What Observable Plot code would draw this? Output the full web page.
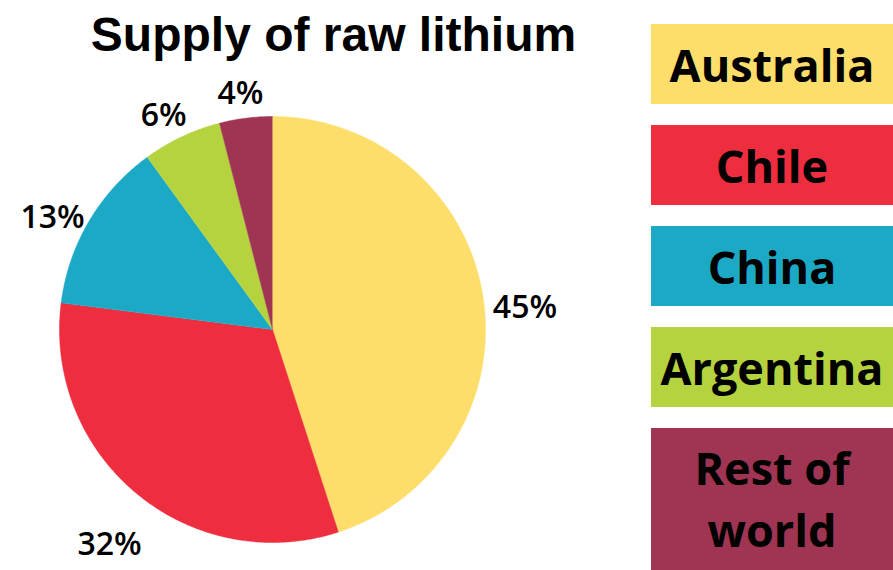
<!DOCTYPE html>
<html>
<head>
<meta charset="utf-8">
<script src="https://cdn.jsdelivr.net/npm/d3@7"></script>
<script src="https://cdn.jsdelivr.net/npm/@observablehq/plot@0.6"></script>
<style>
  html, body { margin: 0; padding: 0; background: #fff; }
  #wrap { position: relative; width: 893px; height: 570px; overflow: hidden; }
  #title { position: absolute; left: 0; top: 11px; width: 667px; text-align: center;
    font-family: "Liberation Sans", Arial, sans-serif; font-weight: bold; font-size: 48px; line-height: 48px; color: #000; }
  #chart { position: absolute; left: 0; top: 0; }
  #legend { position: absolute; left: 651px; top: 0; width: 242px; }
  .box { position: absolute; left: 0; width: 242px; display: flex; align-items: center; justify-content: center;
    text-align: center; font-family: "Open Sans", sans-serif; font-weight: 700; font-size: 45px; color: #000; }
</style>
</head>
<body>
<div id="wrap">
  <div id="chart"></div>
  <div id="title">Supply of raw lithium</div>
  <div id="legend"></div>
</div>
<script>
const countries = ["Australia", "Chile", "China", "Argentina", "Rest of world"];
const shares = [45, 32, 13, 6, 4];
const colors = ["#FDDE6B", "#EE2D3F", "#1BA9C6", "#B5D33F", "#A03453"];
const legendLabels = ["Australia", "Chile", "China", "Argentina", "Rest of<br>world"];

const data = countries.map((c, i) => ({country: c, share: shares[i]}));
const arcs = d3.pie().sort(null).value(d => d.share)(data);

// polygon points for each slice (unit circle, angle clockwise from 12 o'clock)
const poly = [];
for (const a of arcs) {
  const c = a.data.country;
  poly.push({country: c, x: 0, y: 0});
  const n = Math.max(2, Math.ceil((a.endAngle - a.startAngle) / 0.01));
  for (let k = 0; k <= n; k++) {
    const t = a.startAngle + (a.endAngle - a.startAngle) * k / n;
    poly.push({country: c, x: Math.sin(t), y: Math.cos(t)});
  }
}
const labels = arcs.map(a => {
  const m = (a.startAngle + a.endAngle) / 2;
  return {country: a.data.country, text: a.data.share + "%", x: 1.2 * Math.sin(m), y: 1.2 * Math.cos(m)};
});

const chart = Plot.plot({
  width: 640, height: 570,
  marginTop: 0, marginRight: 0, marginBottom: 0, marginLeft: 0,
  x: {domain: [-1, 1], range: [59, 485], axis: null},
  y: {domain: [-1, 1], range: [542, 116], axis: null},
  color: {domain: countries, range: colors},
  style: {fontFamily: "'Open Sans', sans-serif", background: "transparent"},
  marks: [
    Plot.line(poly, {x: "x", y: "y", z: "country", fill: "country", stroke: "country", strokeWidth: 0.5, curve: "linear"}),
    Plot.text(labels, {x: "x", y: "y", text: "text", fontSize: 32, fontWeight: 600, fill: "#000", dy: 18})
  ]
});
document.getElementById("chart").appendChild(chart);

const tops = [24, 125, 226, 327, 428];
const heights = [80, 80, 80, 80, 142];
const legend = document.getElementById("legend");
countries.forEach((c, i) => {
  const d = document.createElement("div");
  d.className = "box";
  d.style.top = tops[i] + "px";
  d.style.height = heights[i] + "px";
  d.style.background = colors[i];
  d.style.lineHeight = i === 4 ? "62px" : "normal";
  d.innerHTML = legendLabels[i];
  legend.appendChild(d);
});
</script>
</body>
</html>
